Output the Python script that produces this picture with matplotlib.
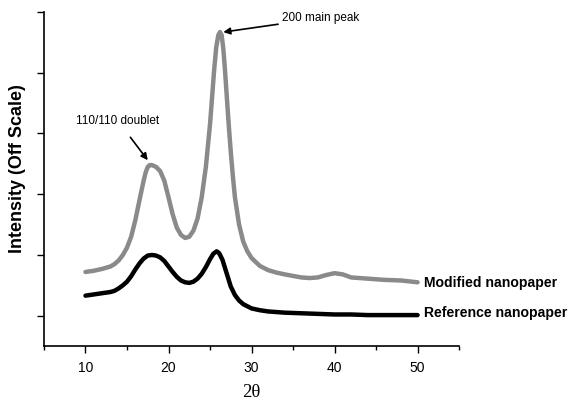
import matplotlib
matplotlib.use("Agg")
import matplotlib.pyplot as plt
from matplotlib.ticker import MultipleLocator

two_theta_mod = [10, 11, 12, 13, 13.5, 14, 14.5, 15, 15.5, 16, 16.5, 17, 17.25, 17.5, 17.75, 18,
                 18.5, 19, 19.5, 20, 20.5, 21, 21.5, 22, 22.5, 23, 23.5, 24, 24.5, 25, 25.25,
                 25.5, 25.75, 26, 26.2, 26.4, 26.6, 26.8, 27, 27.25, 27.5, 27.75, 28, 28.5, 29,
                 29.5, 30, 31, 32, 33, 34, 36, 37, 38, 39, 40, 41, 42, 44, 46, 48, 50]
modified = [1.22, 1.24, 1.27, 1.31, 1.35, 1.41, 1.50, 1.62, 1.80, 2.07, 2.40, 2.72, 2.86, 2.95,
            2.98, 2.98, 2.95, 2.88, 2.72, 2.45, 2.17, 1.95, 1.83, 1.78, 1.80, 1.90, 2.10, 2.45,
            2.95, 3.65, 4.10, 4.55, 4.92, 5.12, 5.17, 5.12, 4.90, 4.55, 4.15, 3.65, 3.20, 2.80,
            2.45, 2.00, 1.72, 1.56, 1.45, 1.32, 1.25, 1.21, 1.18, 1.13, 1.12, 1.13, 1.17, 1.20,
            1.18, 1.13, 1.11, 1.09, 1.08, 1.05]

two_theta_ref = [10, 11, 12, 13, 13.5, 14, 14.5, 15, 15.5, 16, 16.5, 17, 17.5, 18, 18.5, 19,
                 19.5, 20, 20.5, 21, 21.5, 22, 22.5, 23, 23.5, 24, 24.5, 25, 25.4, 25.8, 26.1,
                 26.5, 27, 27.5, 28, 28.5, 29, 30, 31, 32, 34, 36, 38, 40, 42, 44, 50]
reference = [0.83, 0.85, 0.87, 0.89, 0.91, 0.95, 1.00, 1.06, 1.15, 1.26, 1.36, 1.44, 1.49,
             1.50, 1.49, 1.46, 1.40, 1.31, 1.22, 1.14, 1.08, 1.05, 1.04, 1.06, 1.11, 1.19,
             1.30, 1.43, 1.52, 1.56, 1.53, 1.42, 1.20, 0.98, 0.84, 0.75, 0.69, 0.62, 0.59,
             0.57, 0.55, 0.54, 0.53, 0.52, 0.52, 0.51, 0.51]

x_ticks = [10, 20, 30, 40, 50]
series_labels = ["Modified nanopaper", "Reference nanopaper"]

plt.rcParams['font.family'] = ['Liberation Sans', 'DejaVu Sans']

fig = plt.figure(figsize=(5.71, 4.01), dpi=100)
ax = fig.add_axes([0.077, 0.137, 0.727, 0.833])

ax.plot(two_theta_mod, modified, color='#8a8a8a', lw=3.2, solid_capstyle='round',
        solid_joinstyle='round')
ax.plot(two_theta_ref, reference, color='black', lw=3.2, solid_capstyle='round',
        solid_joinstyle='round')

ax.set_xlim(5, 55)
ax.set_ylim(0, 5.5)
ax.set_xticks(x_ticks)
ax.xaxis.set_minor_locator(MultipleLocator(5))
ax.set_yticks([0.5, 1.5, 2.5, 3.5, 4.5, 5.5])
ax.set_yticklabels([])
ax.tick_params(axis='x', which='major', direction='out', length=5, width=1, labelsize=10,
               pad=6)
ax.tick_params(axis='x', which='minor', direction='out', length=3, width=1)
ax.tick_params(axis='y', which='major', direction='out', length=5, width=1)
for s in ['top', 'right']:
    ax.spines[s].set_visible(False)
for s in ['left', 'bottom']:
    ax.spines[s].set_linewidth(1.2)

ax.text(50.8, 1.04, series_labels[0], fontsize=10.1, fontweight='bold', va='center',
        ha='left', clip_on=False)
ax.text(50.8, 0.54, series_labels[1], fontsize=10.1, fontweight='bold', va='center',
        ha='left', clip_on=False)

ax.annotate("110/110 doublet", xy=(17.5, 3.06), xytext=(13.9, 3.71), fontsize=8.5,
            ha='center', va='center',
            arrowprops=dict(arrowstyle='-|>', color='black', lw=1.2, mutation_scale=10,
                            shrinkA=7, shrinkB=0))
ax.annotate("200 main peak", xy=(26.6, 5.17), xytext=(33.7, 5.4), fontsize=8.5,
            ha='left', va='center',
            arrowprops=dict(arrowstyle='-|>', color='black', lw=1.2, mutation_scale=10,
                            shrinkA=1, shrinkB=0))

ax.set_ylabel("Intensity (Off Scale)", fontsize=13, fontweight='bold')
ax.yaxis.set_label_coords(-0.043, 0.53)
ax.set_xlabel("2θ", fontsize=13.5, family=['Liberation Serif', 'DejaVu Serif'], labelpad=6)

fig.savefig("out.png", dpi=100)
